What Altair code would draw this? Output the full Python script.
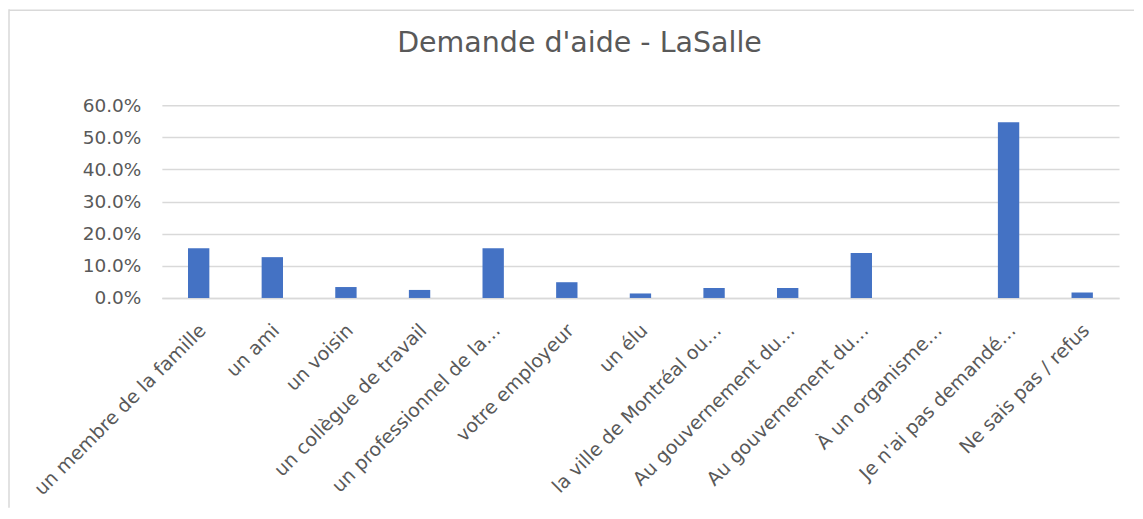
import altair as alt
import pandas as pd

TITLE = "Demande d'aide - LaSalle"
categories = [
    "un membre de la famille",
    "un ami",
    "un voisin",
    "un collègue de travail",
    "un professionnel de la…",
    "votre employeur",
    "un élu",
    "la ville de Montréal ou…",
    "Au gouvernement du…",
    "Au gouvernement du… ",
    "À un organisme…",
    "Je n'ai pas demandé…",
    "Ne sais pas / refus",
]
values = [0.155, 0.127, 0.034, 0.025, 0.155, 0.049, 0.014, 0.031, 0.031, 0.140, 0.0, 0.547, 0.017]
y_ticks = [0.0, 0.1, 0.2, 0.3, 0.4, 0.5, 0.6]

df = pd.DataFrame({"cat": categories, "val": values})

FONT = "DejaVu Sans"
GREY = "#595959"

bars = alt.Chart(df).mark_bar(color="#4472C4").encode(
    x=alt.X(
        "cat:N",
        sort=categories,
        scale=alt.Scale(paddingInner=0.71, paddingOuter=0.355),
        axis=alt.Axis(
            title=None,
            labelAngle=-45,
            labelAlign="right",
            labelBaseline="middle",
            labelPadding=29,
            labelOffset=4,
            labelFontSize=19,
            labelColor=GREY,
            labelFont=FONT,
            ticks=False,
            domainColor="#d9d9d9",
            domainWidth=1.5,
            labelLimit=400,
            labelOverlap=False,
        ),
    ),
    y=alt.Y(
        "val:Q",
        scale=alt.Scale(domain=[0, 0.6]),
        axis=alt.Axis(
            title=None,
            values=y_ticks,
            format=".1%",
            labelFontSize=18.5,
            labelColor=GREY,
            labelFont=FONT,
            labelPadding=21,
            ticks=False,
            domain=False,
            gridColor="#d9d9d9",
            gridWidth=1.5,
        ),
    ),
)

frame = pd.DataFrame({"k": [0]})
left_border = alt.Chart(frame).mark_rule(color="#d9d9d9", strokeWidth=1.5).encode(
    x=alt.value(-153), y=alt.value(-96), y2=alt.value(403)
)
top_border = alt.Chart(frame).mark_rule(color="#d9d9d9", strokeWidth=1.5).encode(
    x=alt.value(-153), x2=alt.value(973), y=alt.value(-95)
)
title = alt.Chart(frame).mark_text(
    text=TITLE, font=FONT, fontSize=28.5, color=GREY, align="center", baseline="alphabetic"
).encode(x=alt.value(418), y=alt.value(-53))

chart = alt.layer(left_border, top_border, title, bars).properties(
    width=958,
    height=193,
    padding=0,
).configure_view(stroke=None)

chart.save("out.html", embed_options={"renderer": "svg", "actions": False})
